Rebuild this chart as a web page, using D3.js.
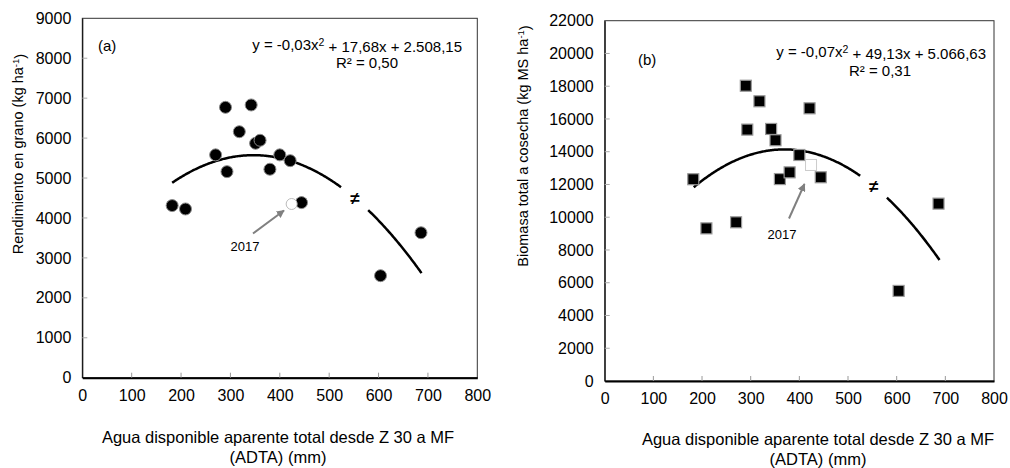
<!DOCTYPE html>
<html><head><meta charset="utf-8">
<script src="https://cdn.jsdelivr.net/npm/d3@7"></script>
<style>
body{margin:0;background:#fff;}
text{font-family:Arial,"Liberation Sans",sans-serif;fill:#000;}
</style></head>
<body><svg id="c" width="1010" height="468"></svg>
<script>
// ---- data ----
const adta      = [182, 209, 270, 290, 293, 318, 342, 351, 360, 380, 400, 421, 444, 604, 686];
const rendimiento = [4310, 4225, 5580, 6770, 5160, 6160, 6830, 5870, 5945, 5220, 5580, 5435, 4385, 2555, 3630];
const biomasa   = [12320, 9320, 9690, 18030, 15350, 17080, 15390, 14700, 12330, 12740, 13800, 16650, 12440, 5500, 10830];
const adta2017 = [424];
const rend2017 = [4350];
const biom2017 = [13190];
const xTicks = [0, 100, 200, 300, 400, 500, 600, 700, 800];
const yTicksA = [0, 1000, 2000, 3000, 4000, 5000, 6000, 7000, 8000, 9000];
const yTicksB = [0, 2000, 4000, 6000, 8000, 10000, 12000, 14000, 16000, 18000, 20000, 22000];
// trendline coefficients (a, b, c) as drawn, x-span and gap around "≠"
const coefA = [-0.0255, 17.68, 2508.15];
const coefB = [-0.0665, 49.13, 5066.63];
const spanA = [182, 687], gapA = [525, 579];
const spanB = [183, 688], gapB = [525, 580];
const eqA = ["y = -0,03x", "2", " + 17,68x + 2.508,15"];
const eqB = ["y = -0,07x", "2", " + 49,13x + 5.066,63"];
const r2A = "R² = 0,50", r2B = "R² = 0,31";

const svg = d3.select("#c");
const defs = svg.append("defs");
defs.append("marker").attr("id","ah").attr("viewBox","0 0 10 10").attr("refX",9).attr("refY",5)
  .attr("markerWidth",4).attr("markerHeight",4).attr("orient","auto")
  .append("path").attr("d","M0,0 L10,5 L0,10 z").attr("fill","#808080");

function panel(o){
  const g = svg.append("g");
  const x = d3.scaleLinear().domain([0,800]).range(o.xr);
  const y = d3.scaleLinear().domain([0,o.ymax]).range(o.yr);
  // frame
  g.append("rect").attr("x",o.xr[0]).attr("y",o.yr[1]).attr("width",o.xr[1]-o.xr[0]).attr("height",o.yr[0]-o.yr[1])
    .attr("fill","none").attr("stroke","#333").attr("stroke-width",1);
  // x axis
  const xa = g.append("g").attr("transform",`translate(0,${o.yr[0]})`)
    .call(d3.axisBottom(x).tickValues(o.xTicks).tickSize(0).tickPadding(12).tickFormat(d3.format("d")));
  xa.select(".domain").attr("stroke","#000").attr("stroke-width",2);
  xa.selectAll("text").attr("font-size","16px").attr("font-family","Arial");
  g.selectAll(".xt").data(o.xTicks.slice(1,-1)).join("line").attr("x1",d=>x(d)).attr("x2",d=>x(d))
    .attr("y1",o.yr[0]).attr("y2",o.yr[0]-5).attr("stroke","#999");
  // y axis
  const ya = g.append("g").attr("transform",`translate(${o.xr[0]},0)`)
    .call(d3.axisLeft(y).tickValues(o.yTicks).tickSize(0).tickPadding(11).tickFormat(d3.format("d")));
  ya.select(".domain").attr("stroke","#000").attr("stroke-width",1);
  ya.selectAll("text").attr("font-size","16px").attr("font-family","Arial");
  g.selectAll(".yt").data(o.yTicks.slice(1,-1)).join("line").attr("y1",d=>y(d)).attr("y2",d=>y(d))
    .attr("x1",o.xr[0]).attr("x2",o.xr[0]+5).attr("stroke","#aaa");
  // trend
  const f = d=>o.coef[0]*d*d+o.coef[1]*d+o.coef[2];
  const seg1 = d3.range(o.span[0], o.gap[0]+0.1, 2).map(d=>[d,f(d)]);
  const seg2 = d3.range(o.gap[1], o.span[1]+0.1, 2).map(d=>[d,f(d)]);
  const line = d3.line().x(d=>x(d[0])).y(d=>y(d[1]));
  [seg1,seg2].forEach(s=>g.append("path").attr("d",line(s)).attr("fill","none").attr("stroke","#000").attr("stroke-width",2.5));
  const gm = (o.gap[0]+o.gap[1])/2;
  g.append("text").attr("x",x(gm)).attr("y",y(f(gm))).attr("dy","0.35em").attr("text-anchor","middle")
    .attr("font-size","17px").attr("font-weight","bold").text("≠");
  // points
  const pts = o.xs.map((d,i)=>[d,o.ys[i]]);
  if(o.shape==="circle"){
    g.selectAll(".p").data(pts).join("circle").attr("cx",d=>x(d[0])).attr("cy",d=>y(d[1])).attr("r",6)
      .attr("fill","#000").attr("stroke","#8a8a8a").attr("stroke-width",1);
    g.selectAll(".o").data(o.x17.map((d,i)=>[d,o.y17[i]])).join("circle").attr("cx",d=>x(d[0])).attr("cy",d=>y(d[1])).attr("r",5.5)
      .attr("fill","#fff").attr("stroke","#bbb").attr("stroke-width",1);
  } else {
    const s=11;
    g.selectAll(".p").data(pts).join("rect").attr("x",d=>x(d[0])-s/2).attr("y",d=>y(d[1])-s/2).attr("width",s).attr("height",s)
      .attr("fill","#000").attr("stroke","#999").attr("stroke-width",1.2);
    g.selectAll(".o").data(o.x17.map((d,i)=>[d,o.y17[i]])).join("rect").attr("x",d=>x(d[0])-s/2).attr("y",d=>y(d[1])-s/2).attr("width",s).attr("height",s)
      .attr("fill","#fff").attr("stroke","#ccc").attr("stroke-width",1);
  }
  // arrow & label
  g.append("line").attr("x1",o.arrow[0]).attr("y1",o.arrow[1]).attr("x2",o.arrow[2]).attr("y2",o.arrow[3])
    .attr("stroke","#808080").attr("stroke-width",2).attr("marker-end","url(#ah)");
  g.append("text").attr("x",o.lab17[0]).attr("y",o.lab17[1]).attr("dy","0.35em").attr("text-anchor","middle")
    .attr("font-size","13px").text("2017");
  // panel letter
  g.append("text").attr("x",o.letter[0]).attr("y",o.letter[1]).attr("dy","0.35em").attr("font-size","15px").text(o.letterTxt);
  // equation
  const et = g.append("text").attr("x",o.eqPos[0]).attr("y",o.eqPos[1]).attr("dy","0.35em").attr("text-anchor","end").attr("font-size","15px");
  et.append("tspan").text(o.eq[0]);
  et.append("tspan").attr("dy","-0.4em").attr("font-size","10.5px").text(o.eq[1]);
  et.append("tspan").attr("dy","0.4em").text(o.eq[2]);
  g.append("text").attr("x",o.r2Pos[0]).attr("y",o.r2Pos[1]).attr("dy","0.35em").attr("text-anchor","middle").attr("font-size","15px").text(o.r2);
  // axis titles
  const xt = g.append("text").attr("text-anchor","middle").attr("font-size","16.5px");
  xt.append("tspan").attr("x",o.xTitle[0]).attr("y",o.xTitle[1]).text("Agua disponible aparente total desde Z 30 a MF");
  xt.append("tspan").attr("x",o.xTitle[0]).attr("y",o.xTitle[1]+20).text("(ADTA) (mm)");
  const yt = g.append("text").attr("text-anchor","middle").attr("font-size","14.5px")
    .attr("transform",`translate(${o.yTitle[0]},${o.yTitle[1]}) rotate(-90)`).attr("dy","0.35em");
  yt.append("tspan").text(o.yTitleTxt);
  yt.append("tspan").attr("dy","-0.45em").attr("font-size","9.5px").text("-1");
  yt.append("tspan").attr("dy","0.45em").text(")");
}

panel({xr:[82.3,477.3], yr:[377.7,18.3], ymax:9000, xTicks:xTicks, yTicks:yTicksA,
  coef:coefA, span:spanA, gap:gapA, xs:adta, ys:rendimiento, x17:adta2017, y17:rend2017, shape:"circle",
  arrow:[253,233.5,284,210.5], lab17:[245,246.5], letter:[98,46], letterTxt:"(a)",
  eq:eqA, eqPos:[462,45], r2:r2A, r2Pos:[367,63],
  xTitle:[278,443], yTitle:[18,154], yTitleTxt:"Rendimiento en grano (kg ha"});

panel({xr:[604.7,994], yr:[381,20.7], ymax:22000, xTicks:xTicks, yTicks:yTicksB,
  coef:coefB, span:spanB, gap:gapB, xs:adta, ys:biomasa, x17:adta2017, y17:biom2017, shape:"square",
  arrow:[789,218.5,804.5,184], lab17:[782,234], letter:[638,60], letterTxt:"(b)",
  eq:eqB, eqPos:[986,52], r2:r2B, r2Pos:[880,71],
  xTitle:[818,445], yTitle:[523,146], yTitleTxt:"Biomasa total a cosecha (kg MS ha"});
</script></body></html>
